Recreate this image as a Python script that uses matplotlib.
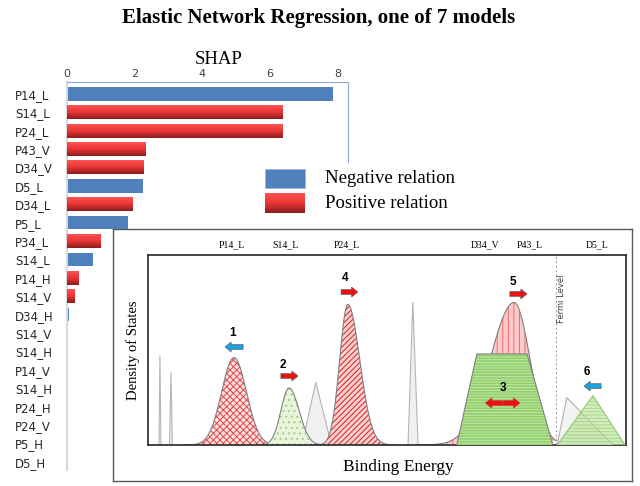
import matplotlib

matplotlib.use("Agg")

import matplotlib.pyplot as plt
import numpy as np
from matplotlib.colors import LinearSegmentedColormap
from matplotlib.patches import FancyArrow, Rectangle

W, H = 640, 486

# bar chart data
FEATURES = [
    "P14_L", "S14_L", "P24_L", "P43_V", "D34_V", "D5_L", "D34_L", "P5_L",
    "P34_L", "S14_L", "P14_H", "S14_V", "D34_H", "S14_V", "S14_H", "P14_V",
    "S14_H", "P24_H", "P24_V", "P5_H", "D5_H",
]
SHAP = [
    7.87, 6.36, 6.36, 2.33, 2.27, 2.24, 1.93, 1.79,
    0.98, 0.77, 0.34, 0.22, 0.06, 0.04, 0.0, 0.0,
    0.0, 0.0, 0.0, 0.0, 0.0,
]
RELATION = [
    "neg", "pos", "pos", "pos", "pos", "neg", "pos", "neg",
    "pos", "neg", "pos", "pos", "neg", "neg", "neg", "neg",
    "neg", "neg", "neg", "neg", "neg",
]
SHAP_TICKS = [0, 2, 4, 6, 8]

# schematic density-of-states inset (axis units 0..100)
PEAK_CENTER = [18.0, 29.5, 41.8, 76.6]
PEAK_HEIGHT = [46, 30, 74, 75]
PEAK_SIG_L = [2.6, 1.7, 1.7, 5.0]
PEAK_SIG_R = [2.6, 2.1, 2.5, 3.3]
PEAK_FACE = ["#fde0e0", "#eaf3dc", "#f9d0d0", "#fccaca"]
PEAK_HATCH = ["xxxxx", "...", "//////", "|||"]
PEAK_HCOLOR = ["#e34848", "#9ccf7a", "#d61f1f", "#f06a6a"]

SPIKE_LEFT = [2.3, 4.5, 32.2, 54.4]
SPIKE_TOP = [2.5, 4.8, 35.1, 55.4]
SPIKE_RIGHT = [2.7, 5.1, 38.4, 56.5]
SPIKE_HEIGHT = [47, 38, 33, 75]

TRAP_X = [64.6, 68.8, 79.3, 84.7]
TRAP_H = 47.9
FERMI_X = 85.4

GREY_TRI = [85.6, 87.6, 97.3]
GREY_TRI_H = 25
GREEN_TRI = [85.6, 93.1, 99.8]
GREEN_TRI_H = 26

TOP_LABELS = ["P14_L", "S14_L", "P24_L", "D34_V", "P43_L", "D5_L"]
TOP_LABEL_X = [17.6, 28.7, 41.6, 70.5, 79.9, 93.9]

ARROW_X = [19.9, 27.8, 40.4, 75.7, 94.8]
ARROW_DX = [-3.8, 3.6, 3.5, 3.6, -3.6]
ARROW_Y = [51.6, 36.3, 80.5, 79.5, 31.0]
ARROW_COLOR = ["#1ea0dc", "#e81414", "#e81414", "#e81414", "#1ea0dc"]
ARROW_NUM = ["1", "2", "4", "5", "6"]
NUM_X = [17.6, 28.2, 41.2, 76.4, 91.8]
NUM_Y = [58.9, 42.1, 87.9, 85.8, 38.4]
DOUBLE_X, DOUBLE_HALF, DOUBLE_Y = 74.2, 3.7, 22.1

RED_CMAP = LinearSegmentedColormap.from_list("bar_red", ["#ff5252", "#ea3535", "#8a1d1d"])
GRAD = np.linspace(0, 1, 64).reshape(-1, 1)
BLUE = "#4f81bd"
SERIF = "Liberation Serif"

plt.rcParams["hatch.linewidth"] = 0.7


def px_rect(x0, y0, x1, y1):
    return [x0 / W, (H - y1) / H, (x1 - x0) / W, (y1 - y0) / H]


def red_gradient(ax, x0, x1, y_top, y_bottom, z=3):
    ax.imshow(GRAD, cmap=RED_CMAP, extent=(x0, x1, y_bottom, y_top), origin="upper",
              aspect="auto", interpolation="bilinear", zorder=z)


def shape(ax, xs, ys, face, hatch=None, hcolor=None, outline="#808080", z=2, alpha=1.0):
    ax.fill(xs, ys, facecolor=face, edgecolor="none", zorder=z, alpha=alpha)
    if hatch:
        ax.fill(xs, ys, facecolor="none", edgecolor=hcolor, hatch=hatch, lw=0, zorder=z, alpha=alpha)
    ax.plot(xs, ys, color=outline, lw=0.8, zorder=z)


def skew_peak(c, h, sl, sr, xmax=None):
    xs = np.linspace(c - 4 * sl, c + 4 * sr, 200)
    if xmax is not None:
        xs = xs[xs <= xmax]
    s = np.where(xs < c, sl, sr)
    return xs, h * np.exp(-0.5 * ((xs - c) / s) ** 2)


fig = plt.figure(figsize=(W / 100, H / 100), dpi=100)

# --- SHAP bars
ax = fig.add_axes(px_rect(67, 82, 348, 470))
rows = np.arange(len(FEATURES))
bar_h = 0.74
bars = ax.barh(rows, SHAP, height=bar_h, color=BLUE, zorder=2)
for bar, rel, y, v in zip(bars, RELATION, rows, SHAP):
    if rel == "pos":
        bar.set_facecolor("none")
        red_gradient(ax, 0, v, y - bar_h / 2, y + bar_h / 2)
ax.set_xlim(0, 8.3)
ax.set_ylim(20.45, -0.65)
ax.xaxis.tick_top()
ax.set_xticks(SHAP_TICKS)
ax.tick_params(axis="x", length=0, pad=2, labelsize=8, labelcolor="#404040")
ax.set_yticks(rows)
ax.set_yticklabels(FEATURES, ha="left")
ax.tick_params(axis="y", length=0, pad=37.4, labelsize=8.5, labelcolor="#262626")
ax.spines["bottom"].set_visible(False)
ax.spines["top"].set_color("#8eaadb")
ax.spines["right"].set_color("#8eaadb")
ax.spines["right"].set_bounds(-0.65, 3.7)
ax.spines["left"].set_color("#d9d9d9")
ax.spines["left"].set_linewidth(1.5)

# --- inset frame
ax_box = fig.add_axes(px_rect(113, 229, 632, 481))
ax_box.set_xticks([])
ax_box.set_yticks([])
for sp in ax_box.spines.values():
    sp.set_color("#595959")
    sp.set_linewidth(1.0)

ax_in = fig.add_axes(px_rect(148, 255, 626, 445))
ax_in.set_xticks([])
ax_in.set_yticks([])
for sp in ax_in.spines.values():
    sp.set_color("#262626")
    sp.set_linewidth(1.2)

for l, t, r, h in zip(SPIKE_LEFT, SPIKE_TOP, SPIKE_RIGHT, SPIKE_HEIGHT):
    shape(ax_in, [l, t, r], [0, h, 0], "#f0f0f0", outline="#b5b5b5", z=1)

for i, (c, h, sl, sr) in enumerate(zip(PEAK_CENTER, PEAK_HEIGHT, PEAK_SIG_L, PEAK_SIG_R)):
    xs, ys = skew_peak(c, h, sl, sr, xmax=FERMI_X if i == 3 else None)
    shape(ax_in, xs, ys, PEAK_FACE[i], PEAK_HATCH[i], PEAK_HCOLOR[i], z=2 + i * 0.1)

shape(ax_in, TRAP_X, [0, TRAP_H, TRAP_H, 0], "#92d16a", "------", "#c4e6ac", z=3)

ax_in.axvline(FERMI_X, color="#a6a6a6", lw=0.8, ls=(0, (2, 2)), zorder=1.5)
ax_in.text(FERMI_X + 1.2, 89.5, "Fermi Level", rotation=90, ha="center", va="top",
           fontsize=6, color="#404040")

shape(ax_in, GREY_TRI, [0, GREY_TRI_H, 0], "#f2f2f2", outline="#b0b0b0", z=3, alpha=0.9)
shape(ax_in, GREEN_TRI, [0, GREEN_TRI_H, 0], "#b9e09a", "-----", "#8ccc5e", outline="#8ed06a",
      z=3.1, alpha=0.6)

for x, dx, y, col in zip(ARROW_X, ARROW_DX, ARROW_Y, ARROW_COLOR):
    ax_in.add_patch(FancyArrow(x, y, dx, 0, width=2.6, head_width=5.2, head_length=1.3,
                               length_includes_head=True, fc=col, ec="#555555", lw=0.4, zorder=5))
for sign in (-1, 1):
    ax_in.add_patch(FancyArrow(DOUBLE_X, DOUBLE_Y, sign * DOUBLE_HALF, 0, width=2.8, head_width=6.0,
                               head_length=1.5, length_includes_head=True, fc="#e81414", ec="none",
                               zorder=5))
for x, y, s in zip(NUM_X, NUM_Y, ARROW_NUM):
    ax_in.text(x, y, s, ha="center", va="center", fontsize=8.5, fontweight="bold",
               family="Liberation Sans", zorder=6)
ax_in.text(DOUBLE_X, 30, "3", ha="center", va="center", fontsize=8.5, fontweight="bold",
           family="Liberation Sans", zorder=6)

for x, s in zip(TOP_LABEL_X, TOP_LABELS):
    ax_in.text(x, 105.3, s, ha="center", va="center", fontsize=7, family=SERIF, clip_on=False)

ax_in.set_xlim(0, 100)
ax_in.set_ylim(0, 100)

# --- overlay for titles, legend and axis texts
ov = fig.add_axes([0, 0, 1, 1])
ov.set_axis_off()
ov.patch.set_alpha(0)
ov.text(319, 18, "Elastic Network Regression, one of 7 models", ha="center", va="center",
        family=SERIF, fontweight="bold", fontsize=15)
ov.text(219, 60, "SHAP", ha="center", va="center", family=SERIF, fontsize=13.5)
ov.add_patch(Rectangle((265, 169), 40, 19, facecolor=BLUE, edgecolor="#9fb6d9", lw=0.6))
red_gradient(ov, 265, 305, 193, 213)
ov.text(325, 178, "Negative relation", ha="left", va="center", family=SERIF, fontsize=13.5)
ov.text(325, 203, "Positive relation", ha="left", va="center", family=SERIF, fontsize=13.5)
ov.text(133, 350, "Density of States", rotation=90, ha="center", va="center", family=SERIF,
        fontsize=10.5)
ov.text(398, 467, "Binding Energy", ha="center", va="center", family=SERIF, fontsize=12.5)
ov.set_xlim(0, W)
ov.set_ylim(H, 0)

fig.savefig("out.png", dpi=100)
